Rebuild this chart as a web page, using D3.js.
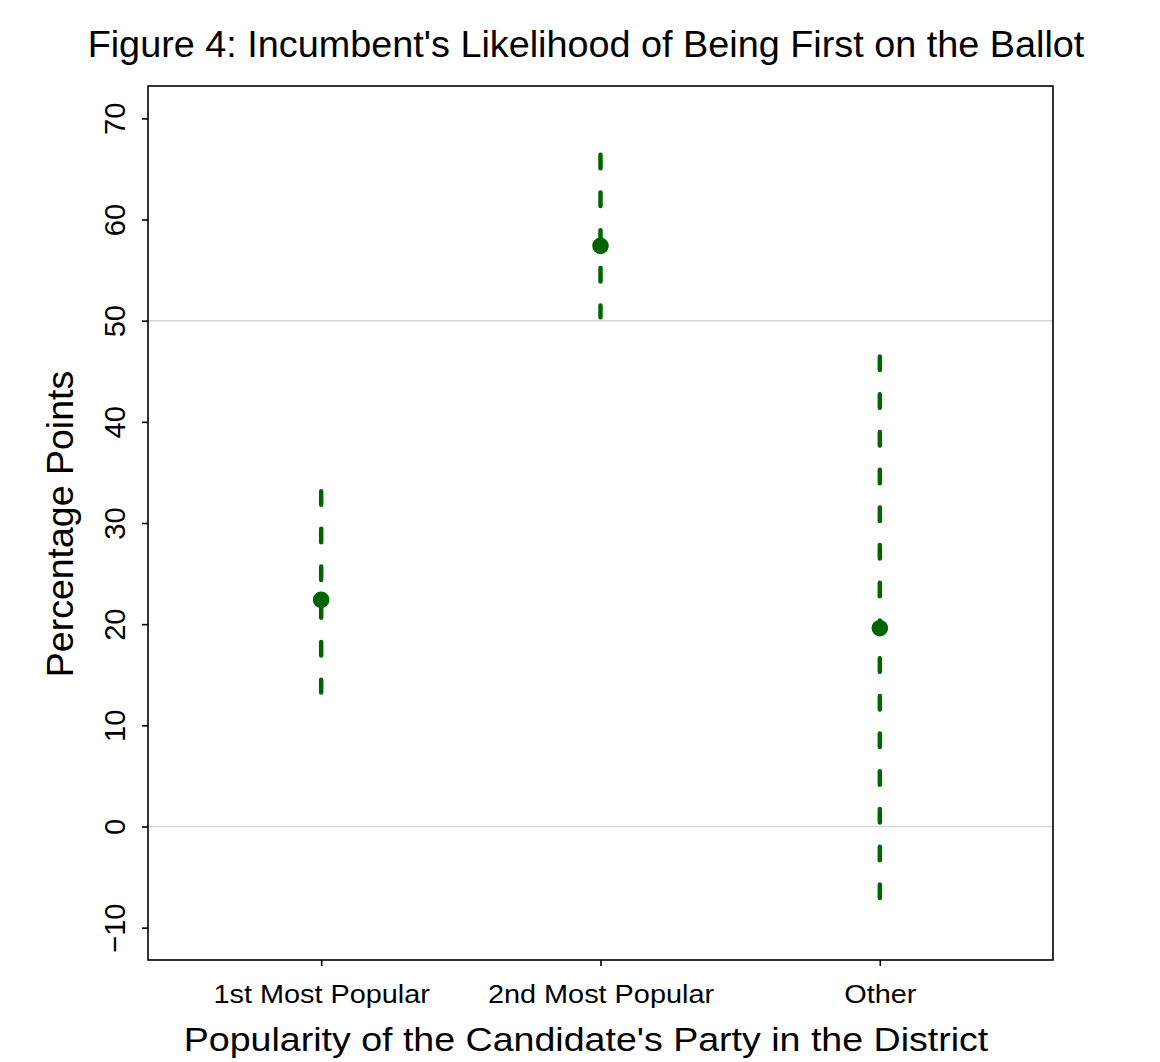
<!DOCTYPE html>
<html>
<head>
<meta charset="utf-8">
<script src="https://cdn.jsdelivr.net/npm/d3@7"></script>
<style>
  html, body { margin: 0; padding: 0; background: #fff; }
  svg { display: block; }
  text { font-family: "Liberation Sans", Arial, Helvetica, sans-serif; fill: #000; }
</style>
</head>
<body>
<script>
// Point estimates and confidence bounds (percentage points)
const categories = ["1st Most Popular", "2nd Most Popular", "Other"];
const estimates  = [22.4, 57.4, 19.6];
const lowerBound = [13.25, 50.35, -7.1];
const upperBound = [33.15, 66.4, 46.45];
const yTicks     = [-10, 0, 10, 20, 30, 40, 50, 60, 70];
const refLines   = [0, 50];

const W = 1160, H = 1062;
const plot = { left: 148, right: 1053, top: 86, bottom: 960 };

const svg = d3.select("body").append("svg")
  .attr("width", W).attr("height", H);

// x: category index 1..3, domain padded like xlim(0.5, 3.5) with 4% expansion
const x = d3.scaleLinear().domain([0.38, 3.62]).range([plot.left, plot.right]);
// y: ylim(-10, 70) with 4% expansion
const y = d3.scaleLinear().domain([-13.2, 73.2]).range([plot.bottom, plot.top]);

// light reference lines
svg.append("g").selectAll("line").data(refLines).join("line")
  .attr("x1", plot.left).attr("x2", plot.right)
  .attr("y1", d => y(d)).attr("y2", d => y(d))
  .attr("stroke", "#d6d6d6").attr("stroke-width", 1.6);

// confidence intervals, dashed
const green = "#006400";
svg.append("g").selectAll("line").data(categories).join("line")
  .attr("x1", (d, i) => x(i + 1)).attr("x2", (d, i) => x(i + 1))
  .attr("y1", (d, i) => y(upperBound[i]))
  .attr("y2", (d, i) => y(lowerBound[i]))
  .attr("stroke", green).attr("stroke-width", 4.5)
  .attr("stroke-linecap", "round")
  .attr("stroke-dasharray", "13.5 24.2");

// point estimates
svg.append("g").selectAll("circle").data(categories).join("circle")
  .attr("cx", (d, i) => x(i + 1))
  .attr("cy", (d, i) => y(estimates[i]))
  .attr("r", 8.3)
  .attr("fill", green);

// frame
svg.append("rect")
  .attr("x", plot.left).attr("y", plot.top)
  .attr("width", plot.right - plot.left).attr("height", plot.bottom - plot.top)
  .attr("fill", "none").attr("stroke", "#000").attr("stroke-width", 1.6);

// y axis
const yAxis = svg.append("g")
  .attr("transform", `translate(${plot.left},0)`)
  .call(d3.axisLeft(y).tickValues(yTicks).tickSize(6).tickFormat(d => d < 0 ? "\u2212" + Math.abs(d) : d));
yAxis.select(".domain").remove();
yAxis.selectAll(".tick line").attr("stroke", "#000").attr("stroke-width", 1.6);
yAxis.selectAll(".tick text")
  .attr("x", 0).attr("dy", 0).attr("y", 0)
  .attr("text-anchor", "middle")
  .attr("transform", "translate(-23,0) rotate(-90) scale(1.04,1.08)")
  .style("font-size", "28px")
  .style("font-family", "\"Liberation Sans\", Arial, sans-serif");

// x axis
const xAxis = svg.append("g")
  .attr("transform", `translate(0,${plot.bottom})`)
  .call(d3.axisBottom(x).tickValues([1, 2, 3]).tickSize(6).tickFormat(d => categories[d - 1]));
xAxis.select(".domain").remove();
xAxis.selectAll(".tick line").attr("stroke", "#000").attr("stroke-width", 1.6);
xAxis.selectAll(".tick text")
  .attr("y", 0).attr("dy", 0)
  .attr("transform", "translate(0,43) scale(1.11,1)")
  .style("font-size", "26px")
  .style("font-family", "\"Liberation Sans\", Arial, sans-serif");

// title and axis titles
svg.append("text")
  .attr("transform", "translate(586,57) scale(1.05,1)")
  .attr("text-anchor", "middle")
  .style("font-size", "36px")
  .text("Figure 4: Incumbent's Likelihood of Being First on the Ballot");

svg.append("text")
  .attr("transform", "translate(586,1051) scale(1.105,1)")
  .attr("text-anchor", "middle")
  .style("font-size", "34px")
  .text("Popularity of the Candidate's Party in the District");

svg.append("text")
  .attr("transform", "translate(73,524) rotate(-90)")
  .attr("text-anchor", "middle")
  .style("font-size", "37.5px")
  .text("Percentage Points");
</script>
</body>
</html>
